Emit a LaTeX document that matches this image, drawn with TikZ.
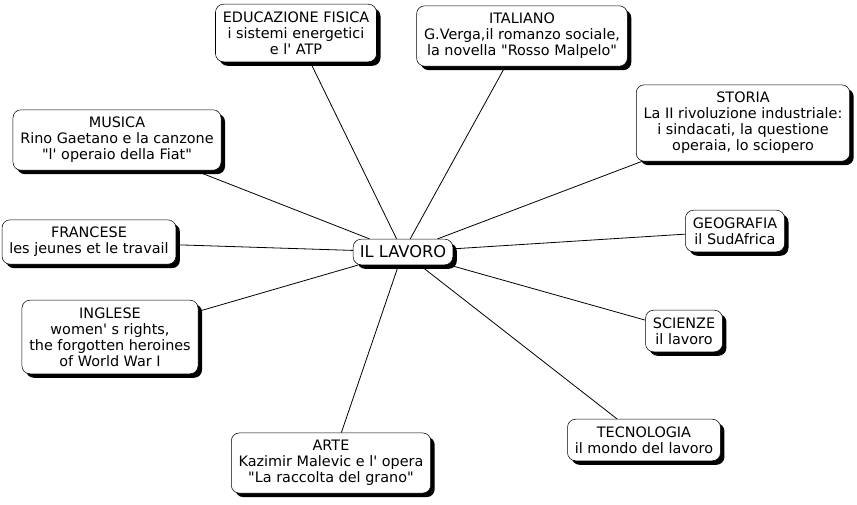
\documentclass[tikz,border=0pt]{standalone}
\usepackage{fontspec}
\setmainfont{DejaVu Sans}
\usetikzlibrary{shadows, backgrounds}

\newcommand{\dq}{\textquotedbl}
\newcommand{\sq}{\textquotesingle}

\tikzset{
  concept/.style={draw, fill=white, rounded corners=6pt, align=center,
    font=\fontsize{10.8}{12}\selectfont, inner xsep=5.5pt, inner ysep=5.5pt,
    drop shadow={shadow xshift=3pt, shadow yshift=-3pt, fill=black, opacity=1}},
  link/.style={draw=black, line width=0.6pt}
}

\begin{document}
\begin{tikzpicture}[x=0.75pt, y=-0.75pt]
  \useasboundingbox (0,0) rectangle (857,504);
  \node[concept, font=\fontsize{12.2}{14}\selectfont, inner xsep=5pt, inner ysep=5pt] (lavoro) at (403,252) {IL LAVORO};

  \node[concept] (edu) at (296,33) {EDUCAZIONE FISICA\\i sistemi energetici\\e l\sq{} ATP};
  \node[concept] (ita) at (522,36) {ITALIANO\\G.Verga,il romanzo sociale,\\la novella \dq{}Rosso Malpelo\dq};
  \node[concept] (sto) at (743,123) {STORIA\\La II rivoluzione industriale:\\i sindacati, la questione\\operaia, lo sciopero};
  \node[concept] (mus) at (117,140) {MUSICA\\Rino Gaetano e la canzone\\\dq{}l\sq{} operaio della Fiat\dq};
  \node[concept] (fra) at (89,242) {FRANCESE\\les jeunes et le travail};
  \node[concept] (geo) at (735,231) {GEOGRAFIA\\il SudAfrica};
  \node[concept] (ing) at (110,337) {INGLESE\\women\sq{} s rights,\\the forgotten heroines\\of World War I};
  \node[concept] (sci) at (684,331) {SCIENZE\\il lavoro};
  \node[concept] (tec) at (644,440) {TECNOLOGIA\\il mondo del lavoro};
  \node[concept] (arte) at (331,463) {ARTE\\Kazimir Malevic e l\sq{} opera\\\dq{}La raccolta del grano\dq};

  \begin{scope}[on background layer]
    \foreach \n in {edu, ita, sto, mus, fra, geo, ing, sci, tec, arte}
      \draw[link] (lavoro) -- (\n);
  \end{scope}
\end{tikzpicture}
\end{document}
